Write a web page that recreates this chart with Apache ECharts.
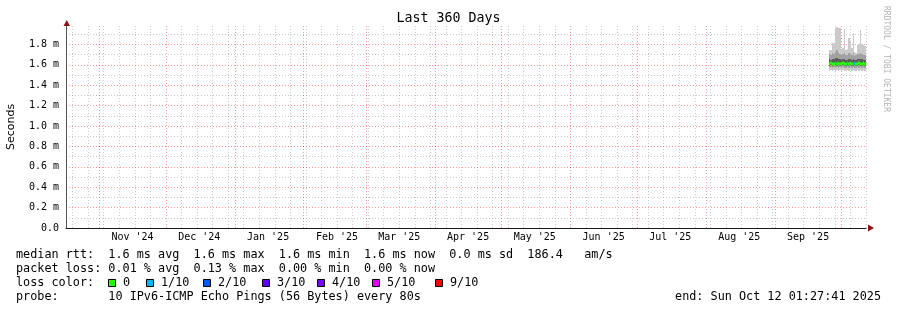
<!DOCTYPE html>
<html><head><meta charset="utf-8">
<script src="https://cdn.jsdelivr.net/npm/echarts@6/dist/echarts.min.js"></script>
<style>html,body{margin:0;padding:0;background:#fff}#c{width:897px;height:310px}</style>
</head><body><div id="c"></div>
<script>
// ---- data ----
const rangeStart = '2024-10-17T01:27:41Z';
const rangeEnd = '2025-10-12T01:27:41Z';
const monthLabels = ["Nov '24","Dec '24","Jan '25","Feb '25","Mar '25","Apr '25","May '25","Jun '25","Jul '25","Aug '25","Sep '25"];
const monthStarts = ['2024-11-01','2024-12-01','2025-01-01','2025-02-01','2025-03-01','2025-04-01','2025-05-01','2025-06-01','2025-07-01','2025-08-01','2025-09-01','2025-10-01'];
const firstSunday = '2024-10-20';
const yTicks = [0,0.2,0.4,0.6,0.8,1.0,1.2,1.4,1.6,1.8];
const yMinorTicks = [0.1,0.3,0.5,0.7,0.9,1.1,1.3,1.5,1.7,1.9];
const yMax = 1.98;

const dataStart = '2025-09-25T08:00:00Z';
const stepHours = 16;
// smoke (ms), sorted ping ranks; one value per 16 h interval
const pingMin = [1.54,1.55,1.54,1.55,1.54,1.55,1.54,1.55,1.54,1.55,1.54,1.54,1.55,1.54,1.55,1.54,1.55,1.54,1.54,1.55,1.54,1.55,1.54,1.55,1.54];
const pingP2  = [1.57,1.58,1.57,1.58,1.57,1.58,1.57,1.58,1.57,1.58,1.57,1.57,1.58,1.57,1.58,1.57,1.58,1.57,1.57,1.58,1.57,1.58,1.57,1.58,1.57];
const pingP4  = [1.59,1.60,1.59,1.60,1.60,1.59,1.60,1.59,1.59,1.60,1.59,1.59,1.60,1.59,1.60,1.59,1.59,1.60,1.59,1.59,1.60,1.59,1.59,1.60,1.59];
const pingP7  = [1.66,1.65,1.66,1.66,1.67,1.67,1.66,1.66,1.65,1.66,1.66,1.65,1.65,1.66,1.66,1.65,1.66,1.65,1.65,1.66,1.66,1.66,1.66,1.65,1.65];
const pingP9  = [1.71,1.70,1.72,1.71,1.73,1.74,1.72,1.71,1.70,1.71,1.72,1.70,1.70,1.72,1.71,1.70,1.72,1.69,1.70,1.71,1.71,1.72,1.71,1.70,1.70];
const pingMax = [1.74,1.74,1.81,1.81,1.96,1.97,1.96,1.96,1.75,1.76,1.95,1.74,1.75,1.86,1.82,1.76,1.91,1.73,1.72,1.79,1.80,1.94,1.80,1.79,1.78];
const medianRtt = [1.61,1.62,1.61,1.61,1.62,1.61,1.62,1.61,1.61,1.62,1.61,1.61,1.62,1.61,1.62,1.61,1.61,1.62,1.61,1.61,1.62,1.61,1.61,1.62,1.61];
const lossTenths = [0,0,0,0,1,0,0,0,0,0,0,0,1,0,0,0,1,1,0,0,0,0,0,0,0];

const lossLabels = ['0','1/10','2/10','3/10','4/10','5/10','9/10'];
const lossLevels = [0,1,2,3,4,5,9];
const lossColors = ['#26ff00','#00b8ff','#0059ff','#5e00ff','#7e00ff','#dd00ff','#ff0000'];

const statsLine1 = 'median rtt:  1.6 ms avg  1.6 ms max  1.6 ms min  1.6 ms now  0.0 ms sd  186.4   am/s';
const statsLine2 = 'packet loss: 0.01 % avg  0.13 % max  0.00 % min  0.00 % now';
const lossLine = 'loss color:';
const probeLine = 'probe:       10 IPv6-ICMP Echo Pings (56 Bytes) every 80s';
const endLine = 'end: Sun Oct 12 01:27:41 2025';
const titleText = 'Last 360 Days';
const yAxisTitle = 'Seconds';
const watermark = 'RRDTOOL / TOBI OETIKER';

// ---- build ----
const DAY = 86400000;
const START = Date.parse(rangeStart), END = Date.parse(rangeEnd);
const monthStartTs = monthStarts.map(d => Date.parse(d + 'T00:00:00Z'));
const monthMidTs = monthStartTs.slice(0, monthLabels.length).map(t => t + 15 * DAY);
const sundayTs = [];
for (let t = Date.parse(firstSunday + 'T00:00:00Z'); t < END; t += 7 * DAY) {
  if (monthStartTs.indexOf(t) < 0) sundayTs.push(t);
}
const t0 = Date.parse(dataStart);
const STEP = stepHours * 3600000;

const MONO = "'DejaVu Sans Mono', monospace";
const bandColors = ['#cacaca', '#a2a2a2', '#5c5c5c', '#a2a2a2', '#cacaca'];

const smokeData = pingMin.map((v, k) => [t0 + k * STEP, t0 + (k + 1) * STEP,
  pingMin[k], pingP2[k], pingP4[k], pingP7[k], pingP9[k], pingMax[k]]);
const medianData = medianRtt.map((v, k) => [t0 + k * STEP, t0 + (k + 1) * STEP, v,
  lossLevels.indexOf(lossTenths[k])]);

function smokeItem(params, api) {
  const a = api.value(0), b = api.value(1);
  const children = [];
  for (let i = 0; i < 5; i++) {
    const lo = api.value(2 + i), hi = api.value(3 + i);
    const p1 = api.coord([a, hi]), p2 = api.coord([b, lo]);
    const x0 = Math.round(p1[0]), x1 = Math.round(p2[0]);
    const y0 = Math.round(p1[1]), y1 = Math.round(p2[1]);
    if (x1 > x0 && y1 > y0) children.push({ type: 'rect', shape: { x: x0, y: y0, width: x1 - x0, height: y1 - y0 }, style: { fill: bandColors[i] } });
  }
  return { type: 'group', children };
}
function medianItem(params, api) {
  const a = api.value(0), b = api.value(1), m = api.value(2), c = api.value(3);
  const p1 = api.coord([a, m]), p2 = api.coord([b, m]);
  const x0 = Math.round(p1[0]), x1 = Math.round(p2[0]);
  return { type: 'rect', shape: { x: x0, y: Math.round(p1[1]) - 1.5, width: Math.max(1, x1 - x0), height: 3 }, style: { fill: lossColors[c] } };
}

const series = [
  { type: 'custom', renderItem: smokeItem, data: smokeData, encode: { x: [0, 1], y: [2, 7] }, clip: true, silent: true, z: 3 },
  { type: 'custom', renderItem: medianItem, data: medianData, encode: { x: [0, 1], y: 2 }, clip: true, silent: true, z: 4 }
];

const graphics = [
  { type: 'text', left: 'center', top: 12, style: { text: titleText, font: '13.3px ' + MONO, fill: '#000' } },
  { type: 'text', x: 11, y: 127, rotation: Math.PI / 2, style: { text: yAxisTitle, font: "11px 'DejaVu Sans', sans-serif", fill: '#000', align: 'center', verticalAlign: 'middle' } },
  { type: 'text', x: 886, y: 59, rotation: -Math.PI / 2, style: { text: watermark, font: '8px ' + MONO, fill: '#b4b4b4', align: 'center', verticalAlign: 'middle' } },
  { type: 'polygon', shape: { points: [[63.5, 26], [70, 26], [66.75, 20]] }, style: { fill: '#8a1414' }, z: 10 },
  { type: 'polygon', shape: { points: [[868, 224.5], [868, 231.5], [874, 228]] }, style: { fill: '#8a1414' }, z: 10 },
  { type: 'text', x: 16, y: 255, style: { text: statsLine1, font: '11.8px ' + MONO, fill: '#000', verticalAlign: 'middle' } },
  { type: 'text', x: 16, y: 269, style: { text: statsLine2, font: '11.8px ' + MONO, fill: '#000', verticalAlign: 'middle' } },
  { type: 'text', x: 16, y: 283, style: { text: lossLine, font: '11.8px ' + MONO, fill: '#000', verticalAlign: 'middle' } },
  { type: 'text', x: 16, y: 297, style: { text: probeLine, font: '11.8px ' + MONO, fill: '#000', verticalAlign: 'middle' } },
  { type: 'text', x: 881, y: 297, style: { text: endLine, font: '11.8px ' + MONO, fill: '#000', align: 'right', verticalAlign: 'middle' } }
];
const legendBoxX = [108, 146, 203, 262, 317, 372, 435];
lossLabels.forEach((lab, i) => {
  graphics.push({ type: 'rect', shape: { x: legendBoxX[i] + 0.5, y: 279.5, width: 7, height: 7 }, style: { fill: lossColors[i], stroke: '#000', lineWidth: 1 } });
  graphics.push({ type: 'text', x: legendBoxX[i] + 15, y: 283, style: { text: lab, font: '11.8px ' + MONO, fill: '#000', verticalAlign: 'middle' } });
});

const option = {
  animation: false,
  backgroundColor: '#ffffff',
  grid: { left: 66, right: 31, top: 26, bottom: 82, containLabel: false },
  xAxis: [{
    type: 'value', min: START, max: END, position: 'bottom',
    axisLine: { show: true, onZero: false, lineStyle: { color: '#1a1a1a', width: 1 } },
    axisTick: { show: false, customValues: monthStartTs },
    splitLine: { show: true, lineStyle: { color: 'rgba(255,0,0,0.4)', type: [1, 2], width: 1 } },
    axisLabel: {
      customValues: monthMidTs, margin: 4, fontFamily: MONO, fontSize: 10, color: '#000',
      formatter: v => { const i = monthMidTs.indexOf(v); return i >= 0 ? monthLabels[i] : ''; }
    }
  }, {
    type: 'value', min: START, max: END, position: 'bottom', offset: 0,
    axisLine: { show: false }, axisLabel: { show: false },
    axisTick: { show: false, customValues: sundayTs },
    splitLine: { show: true, lineStyle: { color: 'rgba(128,128,128,0.4)', type: [1, 2], width: 1 } }
  }],
  yAxis: [{
    type: 'value', min: 0, max: yMax, position: 'left',
    axisLine: { show: true, lineStyle: { color: '#555', width: 1 } },
    axisTick: { show: false, customValues: yTicks },
    splitLine: { show: true, lineStyle: { color: 'rgba(255,0,0,0.4)', type: [1, 2], width: 1 } },
    axisLabel: {
      customValues: yTicks, margin: 7, fontFamily: MONO, fontSize: 10, color: '#000',
      formatter: v => v === 0 ? '0.0' : v.toFixed(1) + ' m'
    }
  }, {
    type: 'value', min: 0, max: yMax, position: 'right',
    axisLine: { show: false }, axisLabel: { show: false },
    axisTick: { show: false, customValues: yMinorTicks },
    splitLine: { show: true, lineStyle: { color: 'rgba(128,128,128,0.4)', type: [1, 2], width: 1 } }
  }],
  series: series,
  graphic: graphics
};
const chart = echarts.init(document.getElementById('c'), null, { renderer: 'canvas' });
chart.setOption(option);
</script></body></html>
